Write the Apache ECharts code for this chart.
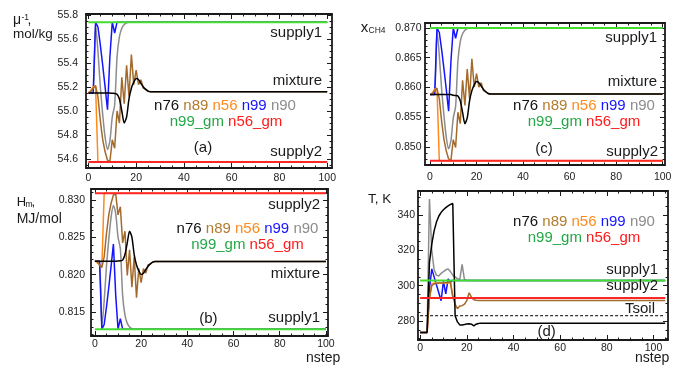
<!DOCTYPE html>
<html><head><meta charset="utf-8">
<script src="https://cdn.jsdelivr.net/npm/echarts@6/dist/echarts.min.js"></script>
<style>html,body{margin:0;padding:0;background:#fff}#c{width:681px;height:368px}</style>
</head><body><div id="c"></div>
<script>
// ---------- tick labels ----------
const xTicks = [0, 20, 40, 60, 80, 100];
const aYTicks = [54.6, 54.8, 55.0, 55.2, 55.4, 55.6, 55.8];
const bYTicks = [0.815, 0.820, 0.825, 0.830];
const cYTicks = [0.850, 0.855, 0.860, 0.865, 0.870];
const dYTicks = [280, 300, 320, 340];
const lastStep = 100;
const lastStepD = 105;

// ---------- panel (a): mu^-1, mol/kg (values per step, last value holds) ----------
const aSupply1 = 55.74, aSupply2 = 54.575;
const aN76 = [55.15,55.15,55.15,55.15,55.15,55.15,55.15,55.15,55.15,55.15,55.148,55.146,55.14,55.10,55.00,54.90,54.95,55.10,55.19,55.24,55.27,55.26,55.23,55.20,55.18,55.165,55.16];
const aN89 = [55.15,55.16,55.19,55.21,55.12,54.92,54.76,54.66,54.59,54.58,54.76,54.69,55.00,54.90,55.28,55.06,55.38,55.12,55.47,55.22,55.34,55.22,55.26,55.19,55.18,55.165,55.16];
const aN56 = [55.15,55.17,55.20,55.21,54.575];
const aN99 = [55.15,55.15,55.15,55.74,55.70,55.55,55.38,55.20,55.01,55.45,55.74,55.65,55.74];
const aN90 = [55.15,55.15,55.15,55.72,55.50,55.20,54.97,54.78,54.68,54.75,54.95,55.05,55.45,55.62,55.69,55.72,55.735,55.74];

// ---------- panel (b): H_m, MJ/mol ----------
const bSupply1 = 0.8127, bSupply2 = 0.8309;
const bN76 = [0.8218,0.8218,0.8218,0.8218,0.8218,0.8218,0.8218,0.8218,0.8218,0.8218,0.82182,0.82185,0.82195,0.8227,0.82426,0.82582,0.82504,0.8227,0.82129,0.82051,0.82004,0.8202,0.82067,0.82114,0.82145,0.82168,0.82176];
const bN89 = [0.8219,0.82176,0.82129,0.82098,0.82239,0.82551,0.82801,0.82957,0.83067,0.83082,0.82801,0.8291,0.82426,0.82582,0.81989,0.82332,0.81832,0.82239,0.81692,0.82082,0.81895,0.82082,0.8202,0.82129,0.82145,0.82168,0.82176];
const bN56 = [0.8219,0.8216,0.8213,0.8210,0.8309];
const bN99 = [0.8218,0.8218,0.8218,0.8127,0.81333,0.81567,0.81832,0.82114,0.8241,0.81723,0.8127,0.81411,0.8127];
const bN90 = [0.8218,0.8218,0.8218,0.81301,0.81645,0.82114,0.82473,0.8277,0.82926,0.82817,0.82504,0.82348,0.81723,0.81457,0.81348,0.81301,0.81278,0.8127];

// ---------- panel (c): x_CH4 ----------
const cSupply1 = 0.870, cSupply2 = 0.8477;
const cN76 = [0.8588,0.8588,0.8588,0.8588,0.8588,0.8588,0.8588,0.8588,0.8588,0.8588,0.85868,0.85865,0.85855,0.85775,0.85584,0.85392,0.85488,0.85775,0.85947,0.86043,0.861,0.86081,0.86024,0.85966,0.85928,0.85899,0.8589];
const cN89 = [0.8588,0.8589,0.85947,0.85985,0.85813,0.8543,0.85124,0.84933,0.84799,0.8478,0.85124,0.8499,0.85584,0.85392,0.86119,0.85698,0.86311,0.85813,0.86483,0.86005,0.86234,0.86005,0.86081,0.85947,0.85928,0.85899,0.8589];
const cN56 = [0.8588,0.8591,0.8597,0.8599,0.8477];
const cN99 = [0.8588,0.8588,0.8588,0.870,0.86924,0.86637,0.86311,0.85966,0.85603,0.86445,0.870,0.86828,0.870];
const cN90 = [0.8588,0.8588,0.8588,0.86962,0.86541,0.85966,0.85526,0.85162,0.84971,0.85105,0.85488,0.85679,0.86445,0.8677,0.86904,0.86962,0.8699,0.870];

// ---------- panel (d): T, K ----------
const dSupply1 = 303, dSupply2 = 293, dTsoil = 283;
const dN76 = [273.5,273.5,273.5,273.5,313,323.5,331,336,339.3,341.5,343,344.2,345.2,346,346.5,283,279.5,277.8,277.8,278,278.3,278.5,278.2,277.3,278.2,278.6,278.8];
const dN89 = [273.5,273.5,273.5,273.5,293,300,301,301.3,301.5,301.5,301.5,301.8,302,302,294,289.5,287,288.5,288.7,289.5,291.5,296,293.5,292,291.7,291.6];
const dN56 = [273.5,273.5,273.5,273.5,293,301,301.5,301.5,301.5,301.5,301.5,301.5,301.5,301.5,293.5,293];
const dN99 = [273.5,273.5,273.5,273.5,298,309.5,305,300.5,296,291.5,302.5,295.3,303.8,302,303];
const dN90 = [273.5,273.5,273.5,273.5,349,320,309,306,305.5,307,308,309,309.5,308,306,305,304,303.5,312,303.5,303];

// ---------- styling ----------
const FONT = 'Liberation Sans, Arial, Helvetica, sans-serif';
const C = {n76:'#000000', n89:'#a46a2c', n56:'#ff8a1c', n99:'#1414ff', n90:'#8c8c8c', gm99:'#44dd2e', gm56:'#ff2626'};
const TXT = {n76:'#111111', n89:'#b37a2c', n56:'#ff8a1c', n99:'#1414ff', n90:'#8c8c8c', gm99:'#22a844', gm56:'#ff1a1a'};
const FRAME = {color:'#1a1a1a', width:1.8};

function minorVals(min, max, step, majors) {
  const out = [];
  for (let k = Math.ceil(min / step - 1e-9); k * step <= max + 1e-9; k++) {
    const v = +(k * step).toFixed(6);
    if (!majors.some(m => Math.abs(m - v) < step / 10)) out.push(v);
  }
  return out;
}

const xAxes = [], yAxes = [], grids = [], series = [];
function panel(g) {
  const gi = grids.length;
  grids.push({left:g.left, top:g.top, width:g.width, height:g.height, containLabel:false});
  const xMinor = minorVals(g.xmin, g.xmax, 5, xTicks);
  const yMinor = minorVals(g.ymin, g.ymax, g.yMinorStep, g.yTicks);
  const tickLS = {color:'#1a1a1a', width:1};
  const base = {type:'value', gridIndex:gi, splitLine:{show:false}, axisPointer:{show:false}};
  const xi = xAxes.length;
  xAxes.push(Object.assign({}, base, {min:g.xmin, max:g.xmax, position:'bottom',
    axisLine:{show:true, onZero:false, lineStyle:FRAME},
    axisTick:{show:true, inside:true, length:5, customValues:xTicks, lineStyle:tickLS},
    axisLabel:{show:true, customValues:xTicks, fontSize:10.5, color:'#222', fontFamily:FONT, margin:g.xMargin,
      formatter:v=>String(Math.round(v))}}));
  xAxes.push(Object.assign({}, base, {min:g.xmin, max:g.xmax, position:'bottom',
    axisLine:{show:false, onZero:false}, axisTick:{show:true, inside:true, length:2.5, customValues:xMinor, lineStyle:tickLS},
    axisLabel:{show:false}}));
  xAxes.push(Object.assign({}, base, {min:g.xmin, max:g.xmax, position:'top',
    axisLine:{show:true, onZero:false, lineStyle:FRAME},
    axisTick:{show:true, inside:true, length:5, customValues:xTicks, lineStyle:tickLS}, axisLabel:{show:false}}));
  xAxes.push(Object.assign({}, base, {min:g.xmin, max:g.xmax, position:'top',
    axisLine:{show:false, onZero:false}, axisTick:{show:true, inside:true, length:2.5, customValues:xMinor, lineStyle:tickLS},
    axisLabel:{show:false}}));
  const yi = yAxes.length;
  yAxes.push(Object.assign({}, base, {min:g.ymin, max:g.ymax, position:'left',
    axisLine:{show:true, onZero:false, lineStyle:FRAME},
    axisTick:{show:true, inside:true, length:5, customValues:g.yTicks, lineStyle:tickLS},
    axisLabel:{show:true, customValues:g.yTicks, fontSize:10.5, color:'#222', fontFamily:FONT, margin:g.yMargin,
      formatter:v=>v.toFixed(g.dec)}}));
  yAxes.push(Object.assign({}, base, {min:g.ymin, max:g.ymax, position:'left',
    axisLine:{show:false, onZero:false}, axisTick:{show:true, inside:true, length:2.5, customValues:yMinor, lineStyle:tickLS},
    axisLabel:{show:false}}));
  yAxes.push(Object.assign({}, base, {min:g.ymin, max:g.ymax, position:'right',
    axisLine:{show:true, onZero:false, lineStyle:FRAME},
    axisTick:{show:true, inside:true, length:5, customValues:g.yTicks, lineStyle:tickLS}, axisLabel:{show:false}}));
  yAxes.push(Object.assign({}, base, {min:g.ymin, max:g.ymax, position:'right',
    axisLine:{show:false, onZero:false}, axisTick:{show:true, inside:true, length:2.5, customValues:yMinor, lineStyle:tickLS},
    axisLabel:{show:false}}));

  const toData = (vals, end) => vals.map((v, i) => [i, v]).concat([[end, vals[vals.length - 1]]]);
  const line = (name, data, color, width, extra) => series.push(Object.assign({
    type:'line', name, xAxisIndex:xi, yAxisIndex:yi, data, showSymbol:false, symbol:'none',
    lineStyle:{color, width}, itemStyle:{color}, animation:false, silent:true, clip:true
  }, extra || {}));
  const end = g.end;
  line('n90', toData(g.n90, end), C.n90, 1.5, {smooth:g.smooth90 ? 0.25 : false});
  line('n99', toData(g.n99, end), C.n99, 1.5);
  line('n56', toData(g.n56, end), C.n56, 1.5);
  line('n89', toData(g.n89, end), C.n89, 1.5);
  line('n76', toData(g.n76, end), C.n76, 1.5, {smooth:g.smooth76 ? 0.25 : false});
  line('n99_gm', [[0, g.s1], [end, g.s1]], C.gm99, 2);
  line('n56_gm', [[0, g.s2], [end, g.s2]], C.gm56, 2);
  if (g.tsoil !== undefined) {
    series.push({type:'line', name:'Tsoil', xAxisIndex:xi, yAxisIndex:yi, data:[[0, g.tsoil], [end, g.tsoil]],
      showSymbol:false, symbol:'none', lineStyle:{color:'#000', width:1, type:[3, 2]}, animation:false, silent:true});
  }
}

panel({left:86, top:14, width:246, height:154, xmin:-1, xmax:102, ymin:54.525, ymax:55.808, yTicks:aYTicks, yMinorStep:0.05, dec:1,
  xMargin:5, yMargin:8, end:lastStep, n76:aN76, n89:aN89, n56:aN56, n99:aN99, n90:aN90, s1:aSupply1, s2:aSupply2, smooth76:true, smooth90:true});
panel({left:91, top:189, width:237, height:147, xmin:-1.7, xmax:100.9, ymin:0.81179, ymax:0.83147, yTicks:bYTicks, yMinorStep:0.001, dec:3,
  xMargin:3, yMargin:6, end:lastStep, n76:bN76, n89:bN89, n56:bN56, n99:bN99, n90:bN90, s1:bSupply1, s2:bSupply2, smooth76:true, smooth90:true});
panel({left:425, top:23, width:240, height:142, xmin:-2.15, xmax:101, ymin:0.84697, ymax:0.87084, yTicks:cYTicks, yMinorStep:0.001, dec:3,
  xMargin:6.5, yMargin:3.5, end:lastStep, n76:cN76, n89:cN89, n56:cN56, n99:cN99, n90:cN90, s1:cSupply1, s2:cSupply2, smooth76:true, smooth90:true});
panel({left:418, top:191, width:250, height:149, xmin:-0.9, xmax:106.2, ymin:269.25, ymax:353.6, yTicks:dYTicks, yMinorStep:5, dec:0,
  xMargin:3, yMargin:3, end:lastStepD, n76:dN76, n89:dN89, n56:dN56, n99:dN99, n90:dN90, s1:dSupply1, s2:dSupply2, tsoil:dTsoil});

// ---------- texts ----------
const T = (text, x, y, size, align, fill) => ({type:'text', silent:true, z:100,
  style:{text, x, y, font:size + 'px ' + FONT, fill:fill || '#1a1a1a', textAlign:align || 'left', textVerticalAlign:'middle'}});
const legendRich = {
  k:{fill:TXT.n76, fontSize:15, fontFamily:FONT}, b:{fill:TXT.n89, fontSize:15, fontFamily:FONT},
  o:{fill:TXT.n56, fontSize:15, fontFamily:FONT}, u:{fill:TXT.n99, fontSize:15, fontFamily:FONT},
  g:{fill:TXT.n90, fontSize:15, fontFamily:FONT}, G:{fill:TXT.gm99, fontSize:15, fontFamily:FONT},
  R:{fill:TXT.gm56, fontSize:15, fontFamily:FONT}};
const L1 = (x, y) => ({type:'text', silent:true, z:100, style:{text:'{k|n76} {b|n89} {o|n56} {u|n99} {g|n90}', rich:legendRich,
  x, y, font:'15px ' + FONT, textAlign:'center', textVerticalAlign:'middle'}});
const L2 = (x, y) => ({type:'text', silent:true, z:100, style:{text:'{G|n99_gm} {R|n56_gm}', rich:legendRich,
  x, y, font:'15px ' + FONT, textAlign:'center', textVerticalAlign:'middle'}});

const graphics = [
  // (a)
  T('\u03bc', 13, 20, 14), T('-1', 21.5, 17.5, 8.5), T(',', 27.5, 20, 14), T('mol/kg', 13, 34.5, 13.5),
  T('supply1', 322, 33, 15, 'right'), T('mixture', 322, 80.7, 15, 'right'),
  L1(225, 105.4), L2(226, 122), T('(a)', 203, 147.8, 15, 'center'), T('supply2', 322, 151.4, 15, 'right'),
  // (c)
  T('x', 360.7, 27.5, 15), T('CH4', 368.5, 30.3, 8.5),
  T('supply1', 657, 37.4, 15, 'right'), T('mixture', 657, 81.4, 15, 'right'),
  L1(584, 106), L2(584, 122), T('(c)', 544, 148.4, 15, 'center'), T('supply2', 658, 151.4, 15, 'right'),
  // (b)
  T('H', 16.7, 202, 13), T('m', 25.5, 204.5, 8.5), T(',', 31.5, 202, 13), T('MJ/mol', 16.7, 219, 14),
  T('supply2', 320, 204.7, 15, 'right'), L1(247.5, 228.7), L2(247.5, 244.7),
  T('mixture', 320, 273.7, 15, 'right'), T('(b)', 208.3, 318.7, 15, 'center'), T('supply1', 320, 318, 15, 'right'),
  T('nstep', 306, 358.5, 14),
  // (d)
  T('T, K', 368, 199.3, 13.5), L1(584, 222), L2(584, 238),
  T('supply1', 658, 269.4, 15, 'right'), T('supply2', 658, 286, 15, 'right'), T('Tsoil', 655, 308.7, 15, 'right'),
  T('(d)', 546.7, 332, 15, 'center'), T('nstep', 635, 358, 14)
];

const chart = echarts.init(document.getElementById('c'), null, {renderer:'canvas', width:681, height:368});
chart.setOption({
  animation:false, backgroundColor:'#ffffff',
  grid:grids, xAxis:xAxes, yAxis:yAxes, series, graphic:graphics
});
</script></body></html>
